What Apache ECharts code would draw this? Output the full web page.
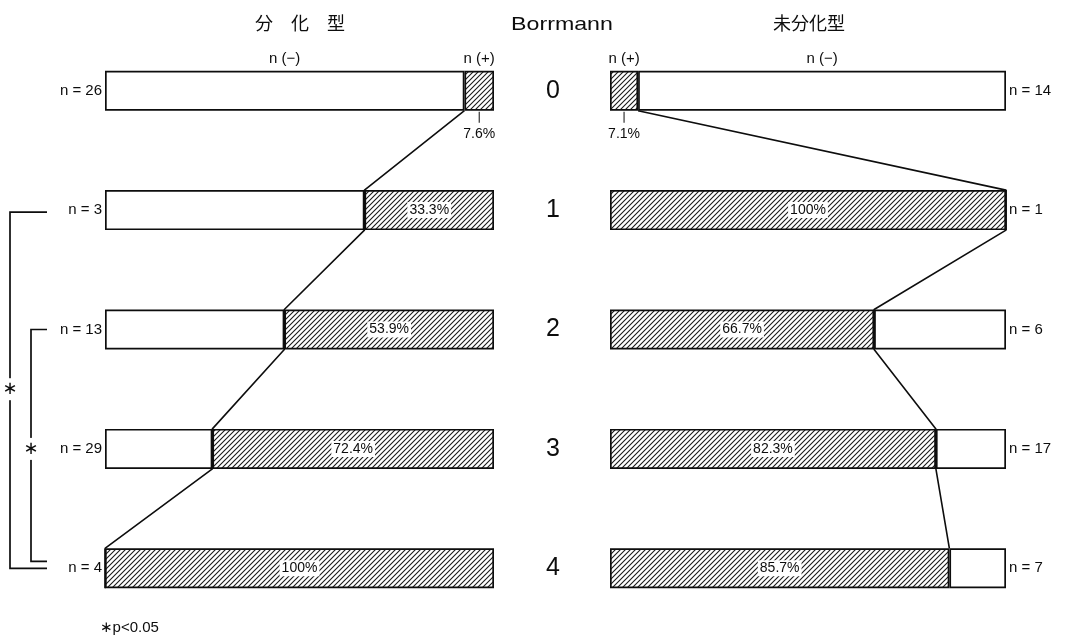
<!DOCTYPE html>
<html>
<head>
<meta charset="utf-8">
<script src="https://cdn.jsdelivr.net/npm/echarts@6/dist/echarts.min.js"></script>
<style>
  html, body { margin: 0; padding: 0; background: #fff; }
  #chart { width: 1069px; height: 640px; }
</style>
</head>
<body>
<div id="chart"></div>
<script>
// Borrmann type (rows) and share of n(+) cases, in percent
const categories = ['0', '1', '2', '3', '4'];
const diffN = [26, 3, 13, 29, 4];            // 分化型 case counts
const diffPos = [7.6, 33.3, 53.9, 72.4, 100]; // 分化型 n(+) %
const undiffN = [14, 1, 6, 17, 7];            // 未分化型 case counts
const undiffPos = [7.1, 100, 66.7, 82.3, 85.7]; // 未分化型 n(+) %
const headerNeg = 'n (−)';
const headerPos = 'n (+)';

// layout
const GRID_TOP = 31, GRID_H = 597, BAR = 40;
const HALF = (BAR / 2) / (GRID_H / categories.length); // half bar height in row units
const FONT = '"Liberation Sans", "DejaVu Sans", sans-serif';
const CJK = '"Noto Sans CJK JP", "Noto Sans CJK SC", sans-serif';
const INK = '#0d0d0d';

function hatchPattern() {
  const c = document.createElement('canvas');
  c.width = c.height = 5;
  const g = c.getContext('2d');
  g.fillStyle = '#fff';
  g.fillRect(0, 0, 5, 5);
  g.strokeStyle = '#1a1a1a';
  g.lineWidth = 1.1;
  g.beginPath();
  g.moveTo(0, 5); g.lineTo(5, 0);
  g.moveTo(-1, 1); g.lineTo(1, -1);
  g.moveTo(4, 6); g.lineTo(6, 4);
  g.stroke();
  return c;
}
const hatch = { image: hatchPattern(), repeat: 'repeat' };

const pct = v => v + '%';
const nLabel = n => 'n = ' + n;

const barBase = {
  type: 'bar',
  barWidth: BAR,
  silent: true,
  itemStyle: { borderColor: INK, borderWidth: 1.7 }
};

// percentage label inside the hatched part; first row gets a tick + text below
function posData(values) {
  return values.map((v, i) => {
    if (i === 0) {
      return {
        value: v,
        label: {
          show: true,
          position: 'bottom',
          distance: 1,
          formatter: () => '{t| }\n{v|' + pct(v) + '}',
          rich: {
            t: { width: 1, height: 11, backgroundColor: INK, align: 'center' },
            v: { fontSize: 14, fontFamily: FONT, color: INK, align: 'center', padding: [4, 0, 0, 0] }
          }
        }
      };
    }
    return {
      value: v,
      label: {
        show: true,
        position: 'inside',
        formatter: pct(v),
        fontSize: 14,
        fontFamily: FONT,
        color: INK,
        backgroundColor: '#fff',
        padding: [1, 2]
      }
    };
  });
}

// polyline through the n(-)/n(+) boundaries, from bottom of one bar to top of the next
function connector(bounds) {
  const pts = [];
  bounds.forEach((b, i) => {
    if (i > 0) pts.push([b, i - HALF]);
    if (i < bounds.length - 1) pts.push([b, i + HALF]);
  });
  return pts;
}

const diffBounds = diffPos.map(v => 100 - v);
const undiffBounds = undiffPos.slice();

const lineBase = {
  type: 'line',
  symbol: 'none',
  silent: true,
  clip: false,
  lineStyle: { color: INK, width: 1.6 },
  z: 1
};

const headerBase = {
  type: 'scatter',
  symbolSize: 0,
  silent: true,
  clip: false,
  itemStyle: { opacity: 1 },
  label: {
    show: true,
    position: 'top',
    distance: 4,
    formatter: p => p.data[2],
    fontSize: 15,
    fontFamily: FONT,
    color: INK,
    opacity: 1,
    textBorderWidth: 0,
    textShadowBlur: 0
  }
};

const catAxis = {
  type: 'category',
  data: categories,
  inverse: true,
  axisLine: { show: false },
  axisTick: { show: false },
  splitLine: { show: false }
};
const rowAxis = { type: 'value', min: -0.5, max: 4.5, inverse: true, show: false };

const chart = echarts.init(document.getElementById('chart'), null, { renderer: 'canvas' });

chart.setOption({
  backgroundColor: '#fff',
  animation: false,
  grid: [
    { left: 105, width: 389, top: GRID_TOP, height: GRID_H },
    { left: 610, width: 396, top: GRID_TOP, height: GRID_H }
  ],
  xAxis: [
    { gridIndex: 0, type: 'value', min: 0, max: 100, show: false },
    { gridIndex: 1, type: 'value', min: 0, max: 100, show: false }
  ],
  yAxis: [
    Object.assign({}, catAxis, {
      gridIndex: 0, position: 'left',
      axisLabel: { margin: 3, fontSize: 15, fontFamily: FONT, color: INK,
        formatter: (v, i) => nLabel(diffN[i]) }
    }),
    Object.assign({}, catAxis, {
      gridIndex: 0, position: 'right',
      axisLabel: { margin: 59, align: 'center', fontSize: 25, fontFamily: FONT, color: INK }
    }),
    Object.assign({ gridIndex: 0 }, rowAxis),
    Object.assign({}, catAxis, {
      gridIndex: 1, position: 'right',
      axisLabel: { margin: 3, fontSize: 15, fontFamily: FONT, color: INK,
        formatter: (v, i) => nLabel(undiffN[i]) }
    }),
    Object.assign({ gridIndex: 1 }, rowAxis)
  ],
  series: [
    // 分化型: n(-) white on the left, n(+) hatched on the right
    Object.assign({}, barBase, {
      name: '分化型 n(-)', xAxisIndex: 0, yAxisIndex: 0, stack: 'diff',
      data: diffPos.map(v => +(100 - v).toFixed(1)),
      itemStyle: Object.assign({}, barBase.itemStyle, { color: '#fff' })
    }),
    Object.assign({}, barBase, {
      name: '分化型 n(+)', xAxisIndex: 0, yAxisIndex: 0, stack: 'diff',
      data: posData(diffPos),
      itemStyle: Object.assign({}, barBase.itemStyle, { color: hatch })
    }),
    // 未分化型: n(+) hatched on the left, n(-) white on the right
    Object.assign({}, barBase, {
      name: '未分化型 n(+)', xAxisIndex: 1, yAxisIndex: 3, stack: 'undiff',
      data: posData(undiffPos),
      itemStyle: Object.assign({}, barBase.itemStyle, { color: hatch })
    }),
    Object.assign({}, barBase, {
      name: '未分化型 n(-)', xAxisIndex: 1, yAxisIndex: 3, stack: 'undiff',
      data: undiffPos.map(v => +(100 - v).toFixed(1)),
      itemStyle: Object.assign({}, barBase.itemStyle, { color: '#fff' })
    }),
    Object.assign({}, lineBase, { xAxisIndex: 0, yAxisIndex: 2, data: connector(diffBounds) }),
    Object.assign({}, lineBase, { xAxisIndex: 1, yAxisIndex: 4, data: connector(undiffBounds) }),
    Object.assign({}, headerBase, {
      xAxisIndex: 0, yAxisIndex: 2,
      data: [
        [diffBounds[0] / 2, -HALF, headerNeg],
        [(diffBounds[0] + 100) / 2, -HALF, headerPos]
      ]
    }),
    Object.assign({}, headerBase, {
      xAxisIndex: 1, yAxisIndex: 4,
      data: [
        [undiffBounds[0] / 2, -HALF, headerPos],
        [(undiffBounds[0] + 100) / 2, -HALF, headerNeg]
      ]
    })
  ]
});

// titles, significance brackets and footnote
const rowY = i => chart.convertToPixel({ yAxisIndex: 0 }, i);
const y1 = rowY(1), y2 = rowY(2), y4 = rowY(4);
const bracketStyle = { stroke: INK, lineWidth: 1.7, fill: null };
const star = (x, y) => ({
  type: 'text', x: x, y: y,
  style: { text: '∗', fontSize: 18, fontFamily: FONT, fill: INK, align: 'center',
    verticalAlign: 'middle', backgroundColor: '#fff', padding: [2, 1] }
});

chart.setOption({
  graphic: [
    { type: 'text', x: 300, y: 23, style: { text: '分　化　型', fontSize: 18, fontFamily: CJK,
      fill: INK, align: 'center', verticalAlign: 'middle' } },
    { type: 'text', x: 562, y: 25, scaleX: 1.22, style: { text: 'Borrmann', fontSize: 19, fontFamily: FONT,
      fill: INK, align: 'center', verticalAlign: 'middle' } },
    { type: 'text', x: 809, y: 23, style: { text: '未分化型', fontSize: 18, fontFamily: CJK,
      fill: INK, align: 'center', verticalAlign: 'middle' } },
    { type: 'polyline', shape: { points: [[47, y1 + 2], [10, y1 + 2], [10, y4], [47, y4]] }, style: bracketStyle },
    { type: 'polyline', shape: { points: [[47, y2], [31, y2], [31, y4 - 7], [47, y4 - 7]] }, style: bracketStyle },
    star(10, (y1 + y4) / 2),
    star(31, (y2 + y4) / 2),
    { type: 'text', x: 100, y: 628, style: { text: '∗p<0.05', fontSize: 15, fontFamily: FONT,
      fill: INK, align: 'left', verticalAlign: 'middle' } }
  ]
});
</script>
</body>
</html>
